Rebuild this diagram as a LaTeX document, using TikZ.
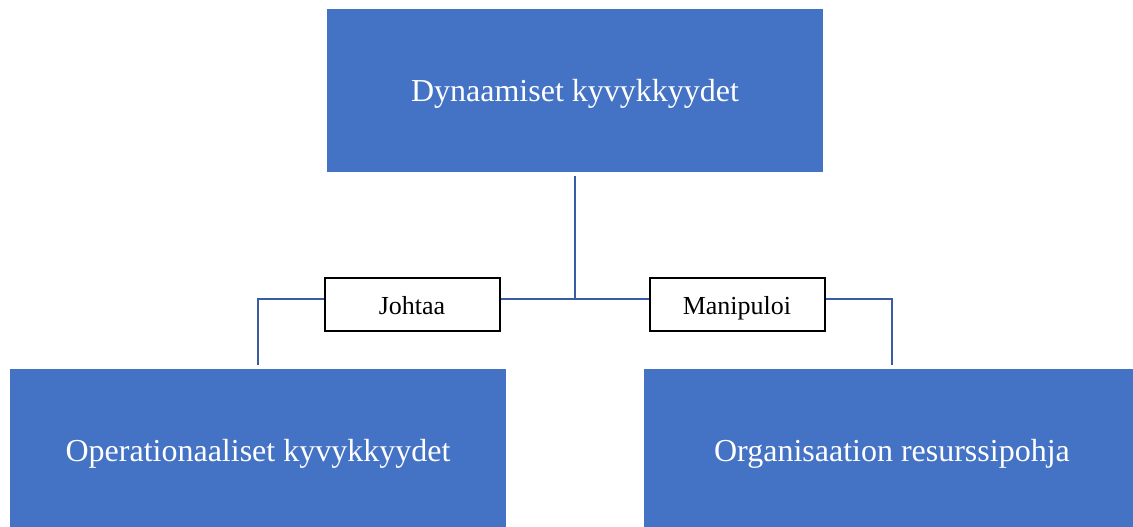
\documentclass[tikz,border=0pt]{standalone}
\usepackage{fontspec}
\setmainfont{Liberation Serif}
\usetikzlibrary{positioning}
\definecolor{boxblue}{RGB}{68,114,196}
\definecolor{linkblue}{RGB}{58,92,163}
\tikzset{
  capbox/.style={shape=rectangle, fill=boxblue, text=white, minimum width=496*0.75pt, minimum height=163*0.75pt, font=\fontsize{24}{28}\selectfont, inner sep=0pt, text height=19pt, text depth=2.5pt},
  relbox/.style={shape=rectangle, draw, line width=1.5pt, fill=white, minimum width=175*0.75pt, minimum height=53*0.75pt, font=\fontsize{19.5}{23}\selectfont, inner sep=0pt, text height=16pt, text depth=2pt},
  link/.style={draw=linkblue, line width=1.5pt}
}
\begin{document}
\begin{tikzpicture}[x=0.75pt, y=-0.75pt]
	% frame of the picture
	\clip (0, 0) rectangle (1133, 527);
	\useasboundingbox (0, 0) rectangle (1133, 527);
	% Boxes:
	\node[capbox] (dyn) at (575, 90.5){Dynaamiset kyvykkyydet};
	\node[capbox] (oper) at (258, 450.5){Operationaaliset kyvykkyydet};
	\node[capbox] (res) at (892, 450.5){Organisaation resurssipohja};
	\node[relbox] (johtaa) at (412, 305){Johtaa};
	\node[relbox] (manip) at (737, 305){Manipuloi};
	\coordinate (hub) at (575, 299);
	% Connectors:
	\draw[link, shorten <=2.5pt] (dyn.south) -- (hub);
	\draw[link] (hub) -- (johtaa.east |- hub);
	\draw[link] (hub) -- (manip.west |- hub);
	\draw[link, shorten >=2.5pt] (johtaa.west |- hub) -| (oper.north);
	\draw[link, shorten >=2.5pt] (manip.east |- hub) -| (res.north);
\end{tikzpicture}
\end{document}
